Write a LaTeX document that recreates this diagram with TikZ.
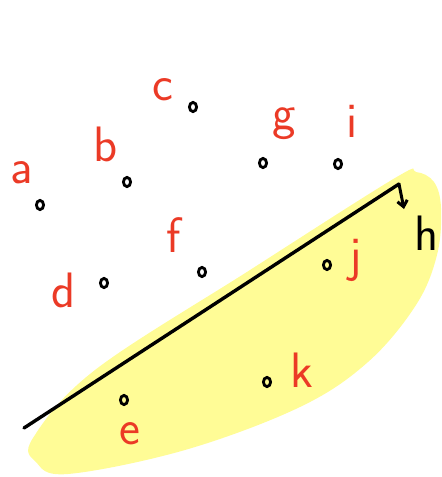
\documentclass[tikz,border=0pt]{standalone}
\usepackage{tikz}
\usetikzlibrary{arrows.meta,shapes.geometric}
\usepackage{xcolor}
\definecolor{hlyellow}{RGB}{255,252,150}
\definecolor{penred}{RGB}{235,58,38}

\begin{document}
\begin{tikzpicture}[x=0.5pt, y=-0.5pt,
	pt/.style={draw, line width=1.4pt, ellipse, inner sep=0pt, minimum width=3.6pt, minimum height=4.6pt},
	lbl/.style={font=\Huge\sffamily, text=penred, inner sep=0pt}]
	\useasboundingbox (0,0) rectangle (442,477);
	
	% highlighted half-plane
	\fill [hlyellow] plot [smooth cycle, tension=0.6] coordinates {
		(33,438) (95,370) (250,270) (395,178) (416,172) (434,182) (441,208)
		(437,255) (416,305) (368,362) (300,407) (185,450) (68,474) (36,462)};
	
	% the separating line and its normal
	\coordinate (lineA) at (24,428);
	\coordinate (lineB) at (399,184);
	\coordinate (tip) at (404,209);
	\draw [line width=1.7pt, line cap=round] (lineA) -- (lineB);
	\draw [line width=1.5pt, line cap=round, -{Straight Barb[length=3pt, width=5pt]}] (lineB) -- (tip);
	\node [font=\Huge\sffamily, inner sep=0pt] at (427,233) (lblh) {h};
	
	\foreach \name/\x/\y/\lx/\ly in {
		a/40/205/22/173,
		b/127/182/106/144,
		c/193/107/163/90,
		g/263/163/284/124,
		i/338/164/352/121,
		d/104/283/64/290,
		f/202/272/174/235,
		j/327/265/356/260,
		k/267/382/302/370,
		e/124/400/130/434
	}
	{
		\node [pt] at (\x,\y) (p\name) {};
		\node [lbl] at (\lx,\ly) (l\name) {\name};
	}
\end{tikzpicture}
\end{document}
